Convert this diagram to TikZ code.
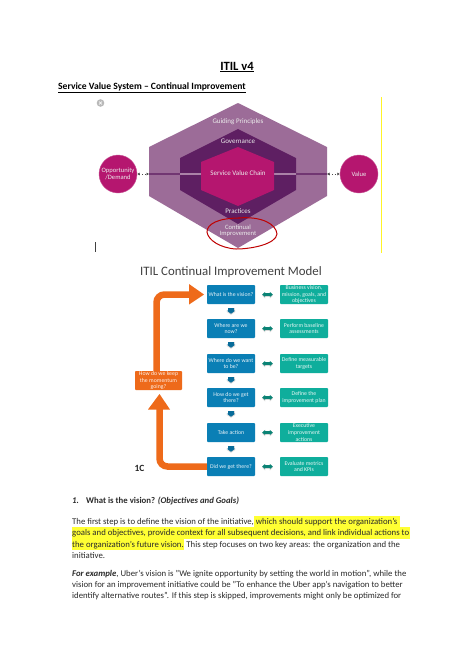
\documentclass[tikz,border=0pt]{standalone}
\usepackage{fontspec}
\setmainfont{Carlito}
\usetikzlibrary{arrows.meta,calc}
\definecolor{hexo}{HTML}{9C6C98}
\definecolor{hexm}{HTML}{5E1F62}
\definecolor{hexi}{HTML}{B5166F}
\definecolor{blu}{HTML}{0A7FB5}
\definecolor{tea}{HTML}{0FAE9C}
\definecolor{org}{HTML}{EE6A1A}
\definecolor{hl}{HTML}{FFFF33}
\definecolor{body}{HTML}{2A2A2A}
\tikzset{
 x=1pt,y=-1pt,
 hexlabel/.style={text=white!92!black,font=\fontsize{7}{8}\selectfont,align=center,inner sep=0},
 bub/.style={circle,fill=hexi,draw=hexi!70!white,line width=.4pt,minimum size=38pt,inner sep=0,text=white!92!black,font=\fontsize{6.6}{7.4}\selectfont,align=center},
 qbox/.style={rectangle,rounded corners=.8pt,fill=blu,minimum width=48pt,minimum height=19pt,inner sep=0,text=white!90!blu,font=\fontsize{5.8}{6.6}\selectfont,align=center},
 abox/.style={qbox,fill=tea,text=white!90!tea},
 obox/.style={qbox,fill=org,minimum width=47pt,text=white!90!org},
 downar/.style={-{Triangle[length=3pt,width=8pt]},line width=6.5pt,blu!85!black},
 downsh/.style={-{Triangle[length=3pt,width=9pt]},line width=7pt,gray!30},
 sidear/.style={{Triangle[length=3pt,width=5pt]}-{Triangle[length=3pt,width=5pt]},line width=2.4pt,tea!75!black},
 sidesh/.style={{Triangle[length=3pt,width=6pt]}-{Triangle[length=3pt,width=6pt]},line width=2.6pt,gray!30},
 dotar/.style={{Latex[length=2.5pt,width=3.2pt]}-{Latex[length=2.5pt,width=3.2pt]},line width=.8pt,gray!60!black,dotted},
 bigar/.style={org,line width=6.5pt,rounded corners=8pt},
 bodytx/.style={anchor=base west,inner sep=0,text=body,font=\fontsize{8.75}{11}\selectfont},
 hlbox/.style={fill=hl,draw=none},
}
\begin{document}
\begin{tikzpicture}
\useasboundingbox[fill=white] (0,0) rectangle (474,670);
% headings
\node[inner sep=0,anchor=base] (title) at (237,70) {\fontsize{12.6}{15}\selectfont\bfseries\underline{ITIL v4}};
\node[inner sep=0,anchor=base west] (sect) at (58,89.5) {\fontsize{9.6}{12}\selectfont\bfseries\underline{Service Value System – Continual Improvement}};
% close icon and cursor
\fill[gray!55] (100.5,103) circle (3.8);
\draw[white,line width=.7pt] (99,101.5) -- (102,104.5) (102,101.5) -- (99,104.5);
\draw[black!75,line width=.7pt] (95,242) -- (95,252);
\draw[yellow!85!white,line width=.6pt] (381,97) -- (381,253);
% hexagons
\fill[hexo] (238,103) -- (327,147) -- (327,196) -- (238,248) -- (149,196) -- (149,147) -- cycle;
\fill[hexm] (238,129) -- (296,158) -- (296,190) -- (238,224) -- (180,190) -- (180,158) -- cycle;
\fill[hexm!70!hexo] (149,173.2) rectangle (180,175);
\fill[hexm!70!hexo] (296,173.2) rectangle (327,175);
\fill[hexo!85!white] (180,172.8) rectangle (296,175.4);
\fill[hexi] (238,147) -- (274,162) -- (274,190) -- (238,206) -- (201,190) -- (201,162) -- cycle;
\node[hexlabel] (gp) at (238,121.5) {Guiding Principles};
\node[hexlabel] (gov) at (238,141) {Governance};
\node[hexlabel] (svc) at (238,173.5) {Service Value Chain};
\node[hexlabel] (pra) at (238,211) {Practices};
\node[hexlabel,font=\fontsize{6.6}{6.2}\selectfont] (ci) at (238,231) {Continual\\Improvement};
\node[bub] (opp) at (118,174) {Opportunity\\/Demand};
\node[bub] (val) at (359,174) {Value};
\coordinate (hl) at (149,174);
\coordinate (hr) at (327,174);
\draw[dotar] (opp) -- (hl);
\draw[dotar] (hr) -- (val);
\draw[red!75!black,line width=1pt] (238,218) .. controls (262,216) and (276,224) .. (277,234)
 .. controls (276,244) and (252,249) .. (236,249) .. controls (220,248) and (208,240) .. (207,232)
 .. controls (207,224) and (218,218) .. (240,218);
% model title
\node[inner sep=0] (mt) at (231,272) {\fontsize{12.85}{15}\selectfont\color{black!75}ITIL Continual Improvement Model};
% boxes
\node[qbox] (q1) at (231,294.5) {What is the vision?};
\node[qbox] (q2) at (231,328.5) {Where are we\\now?};
\node[qbox] (q3) at (231,363.5) {Where do we want\\to be?};
\node[qbox] (q4) at (231,397.5) {How do we get\\there?};
\node[qbox] (q5) at (231,432.5) {Take action};
\node[qbox] (q6) at (231,466.5) {Did we get there?};
\node[abox] (a1) at (304,294.5) {Business vision,\\mission, goals, and\\objectives};
\node[abox] (a2) at (304,328.5) {Perform baseline\\assessments};
\node[abox] (a3) at (304,363.5) {Define measurable\\targets};
\node[abox] (a4) at (304,397.5) {Define the\\improvement plan};
\node[abox] (a5) at (304,432.5) {Executive\\improvement\\actions};
\node[abox] (a6) at (304,466.5) {Evaluate metrics\\and KPIs};
\node[obox] (ob) at (158.5,380.5) {How do we keep\\the momentum\\going?};
\foreach \a/\b in {q1/q2,q2/q3,q3/q4,q4/q5,q5/q6}{
 \draw[downsh] ($(\a.south)+(0,4)$) -- ($(\a.south)+(0,10.5)$);
 \draw[downar] ($(\a.south)+(0,4)$) -- ($(\a.south)+(0,9.5)$);
}
\foreach \i in {1,...,6}{
 \draw[sidesh] ($(q\i.east)+(7,1)$) -- ($(a\i.west)+(-7,1)$);
 \draw[sidear] ($(q\i.east)+(7,0)$) -- ($(a\i.west)+(-7,0)$);
}
% big arrows
\coordinate (oup) at (156.5,371);
\coordinate (odn) at (159.5,390);
\coordinate (tip1) at (204,294.5);
\coordinate (tip2) at (159.5,394);
\draw[bigar] (oup) -- (156.5,294.5) -- (190,294.5);
\fill[org] (tip1) -- (189,284) -- (189,304.5) -- cycle;
\draw[bigar] (q6.west) -- (159.5,466.5) -- (159.5,409);
\fill[org] (tip2) -- (148,409.5) -- (170,409.5) -- cycle;
\node[inner sep=0,font=\fontsize{9.5}{10}\bfseries\selectfont,text=black!85] (logo) at (139.5,468) {1C};
% highlights
\fill[hlbox] (254,516) rectangle (399.5,527);
\fill[hlbox] (72,527) rectangle (410,538.5);
\fill[hlbox] (72,538.5) rectangle (184,550);
% body text
\node[inner sep=0,anchor=base west,text=body,font=\fontsize{8.75}{11}\selectfont] (n1) at (72,503) {\textbf{\textit{1.}}};
\node[inner sep=0,anchor=base west,text=body,font=\fontsize{8.75}{11}\selectfont] (hd) at (86,503) {\textbf{What is the vision? \textit{(Objectives and Goals)}}};
\node[bodytx] (l1) at (72,524) {The first step is to define the vision of the initiative, which should support the organization's};
\node[bodytx] (l2) at (72,535.5) {goals and objectives, provide context for all subsequent decisions, and link individual actions to};
\node[bodytx] (l3) at (72,547) {the organization's future vision. This step focuses on two key areas: the organization and the};
\node[bodytx] (l4) at (72,558) {initiative.};
\node[bodytx] (l5) at (72,576) {\textbf{\textit{For example}}, Uber's vision is "We ignite opportunity by setting the world in motion", while the};
\node[bodytx] (l6) at (72,587.5) {vision for an improvement initiative could be "To enhance the Uber app's navigation to better};
\node[bodytx] (l7) at (72,598.5) {identify alternative routes". If this step is skipped, improvements might only be optimized for};
\end{tikzpicture}
\end{document}
